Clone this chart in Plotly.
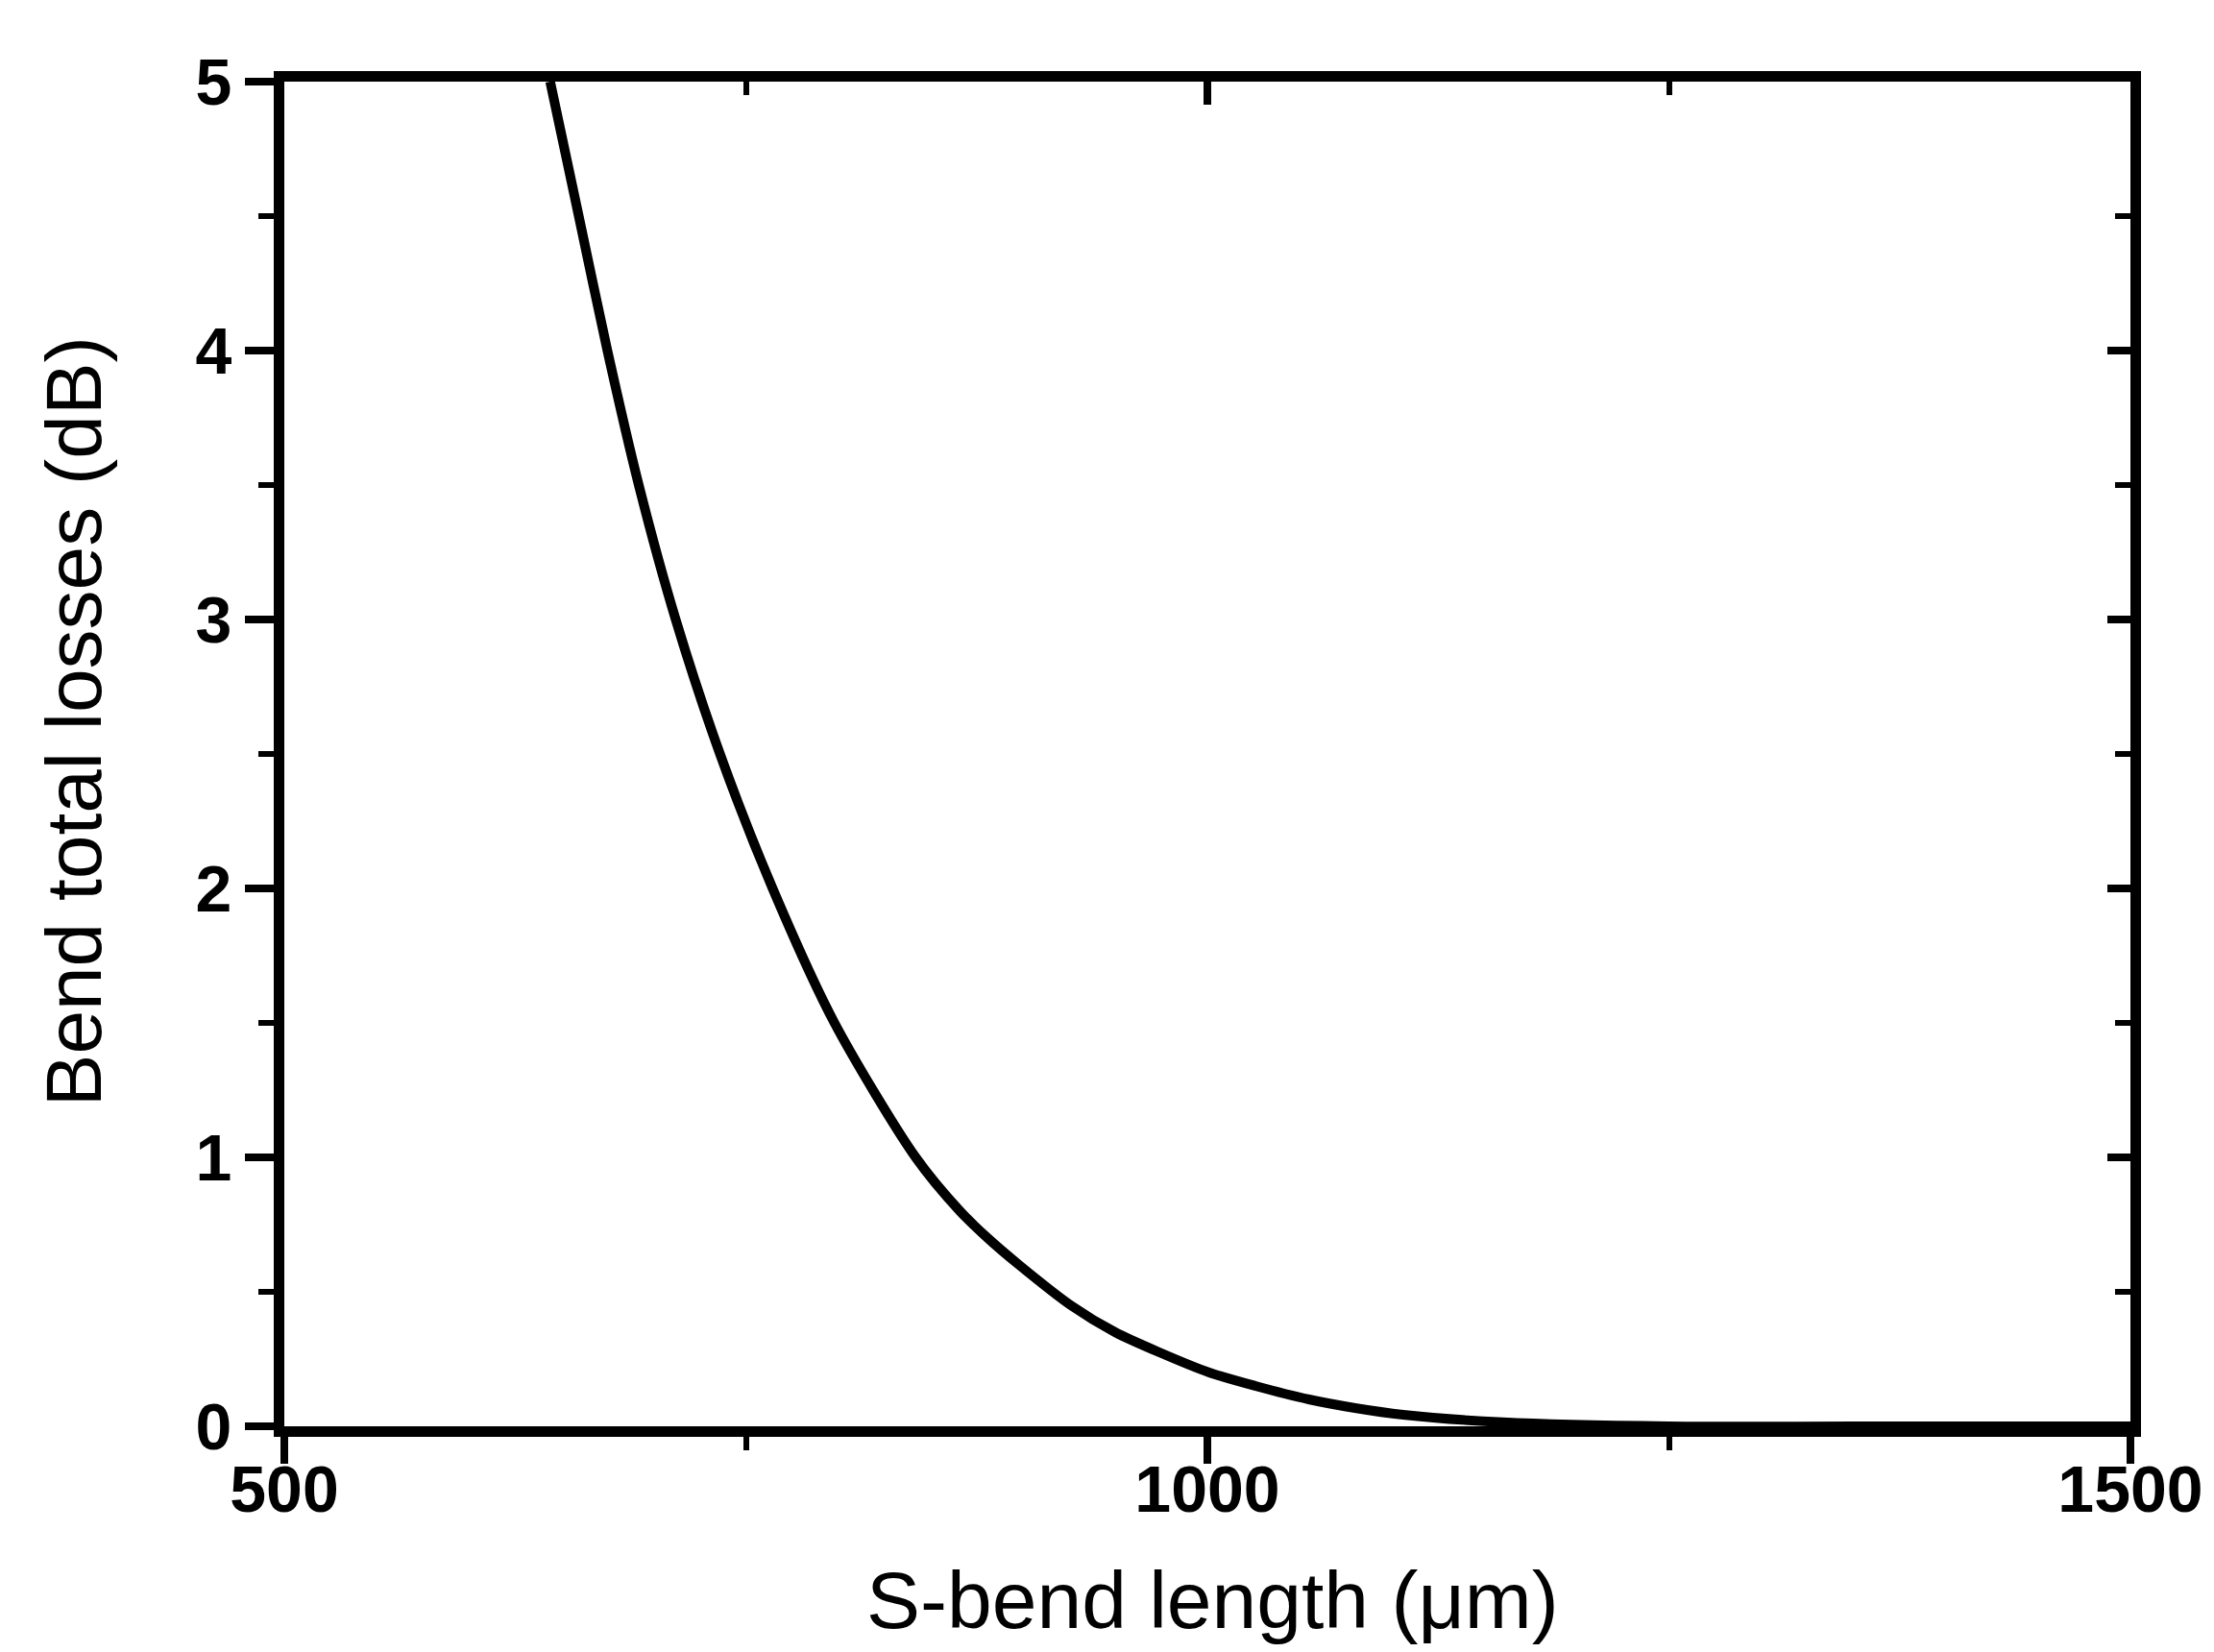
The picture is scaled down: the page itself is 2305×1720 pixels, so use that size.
import plotly.graph_objects as go

# Bend total losses (dB) and the S-bend length (um) where the curve reaches them
loss_db = [5.0, 4.5, 4.0, 3.5, 3.0, 2.5, 2.0, 1.5, 1.0, 0.8, 0.7, 0.6, 0.45, 0.35, 0.275,
           0.2, 0.15, 0.1, 0.068, 0.043, 0.015, 0.0, 0.0, 0.0]
length_um = [644, 659.5, 675, 692, 712, 736, 764.5, 798, 842, 866, 881, 898, 926, 950, 974,
             1001, 1026, 1055, 1080, 1106, 1160, 1250, 1350, 1500]

x_ticks = [500, 1000, 1500]
y_ticks = [0, 1, 2, 3, 4, 5]

FONT = "Liberation Sans, Arial, sans-serif"

fig = go.Figure()
fig.add_trace(go.Scatter(x=length_um, y=loss_db, mode="lines",
                         line=dict(color="black", width=10, shape="spline", smoothing=0.8),
                         showlegend=False, hoverinfo="skip"))

axis_common = dict(showgrid=False, zeroline=False, showline=True, linecolor="black",
                   linewidth=11, tickcolor="black", tickwidth=8)

fig.update_layout(
    width=2305, height=1720,
    margin=dict(l=288, r=95, t=77, b=243),
    paper_bgcolor="white", plot_bgcolor="white",
    xaxis=dict(range=[500, 1500], tickvals=x_ticks, ticktext=[str(v) for v in x_ticks],
               ticks="outside", ticklen=28, ticklabelstandoff=-32,
               minor=dict(dtick=250, tick0=500, ticks="outside", ticklen=14, tickwidth=6, tickcolor="black"),
               tickfont=dict(family=FONT, size=68, color="black", weight="bold"),
               **axis_common),
    yaxis=dict(range=[0, 5], tickvals=y_ticks, ticktext=[str(v) for v in y_ticks],
               ticks="outside", ticklen=30,
               minor=dict(dtick=0.5, tick0=0, ticks="outside", ticklen=16, tickwidth=6, tickcolor="black"),
               tickfont=dict(family=FONT, size=68, color="black", weight="bold"),
               **axis_common),
    xaxis2=dict(range=[500, 1500], overlaying="x", side="top", tickvals=x_ticks,
                ticks="inside", ticklen=24, showticklabels=False,
                minor=dict(dtick=250, tick0=500, ticks="inside", ticklen=14, tickwidth=6, tickcolor="black"),
                **axis_common),
    yaxis2=dict(range=[0, 5], overlaying="y", side="right", tickvals=y_ticks,
                ticks="inside", ticklen=24, showticklabels=False,
                minor=dict(dtick=0.5, tick0=0, ticks="inside", ticklen=16, tickwidth=6, tickcolor="black"),
                **axis_common),
)

# invisible trace to anchor secondary axes
fig.add_trace(go.Scatter(x=[length_um[0]], y=[loss_db[0]], xaxis="x2", yaxis="y2",
                         mode="markers", marker=dict(opacity=0), showlegend=False, hoverinfo="skip"))

fig.add_annotation(text="S-bend length (μm)", xref="paper", yref="paper",
                   x=0.503, y=-0.129, xanchor="center", yanchor="middle", showarrow=False,
                   font=dict(family=FONT, size=84, color="black"))
fig.add_annotation(text="Bend total losses (dB)", xref="paper", yref="paper",
                   x=-0.114, y=0.524, xanchor="center", yanchor="middle", showarrow=False,
                   textangle=-90, font=dict(family=FONT, size=82, color="black"))

fig.write_html("out.html")
